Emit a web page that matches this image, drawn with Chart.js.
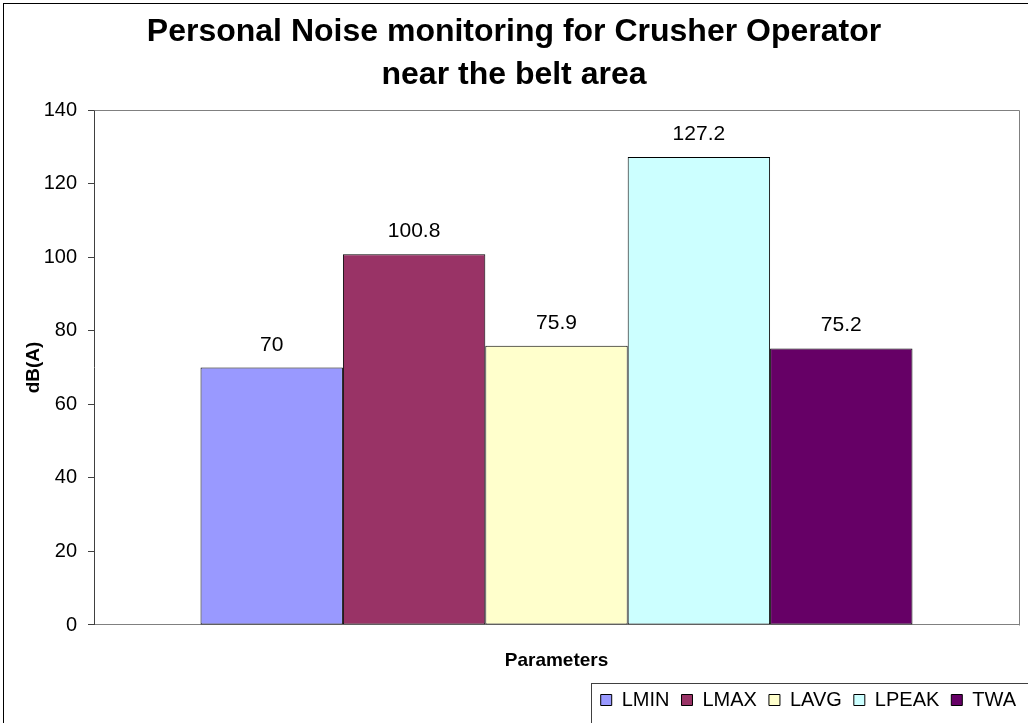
<!DOCTYPE html>
<html>
<head>
<meta charset="utf-8">
<script src="https://cdn.jsdelivr.net/npm/chart.js@4/dist/chart.umd.min.js"></script>
<style>
  html, body { margin: 0; padding: 0; background: #ffffff; }
  #wrap { width: 1028px; height: 723px; }
</style>
</head>
<body>
<div id="wrap"><canvas id="c" width="1028" height="723"></canvas></div>
<script>
const titleLines = ['Personal Noise monitoring for Crusher Operator', 'near the belt area'];
const categories = [''];
const seriesNames = ['LMIN', 'LMAX', 'LAVG', 'LPEAK', 'TWA'];
const seriesValues = [70, 100.8, 75.9, 127.2, 75.2];
const seriesColors = ['#9999FF', '#993366', '#FFFFCC', '#CCFFFF', '#660066'];
const yTicks = [0, 20, 40, 60, 80, 100, 120, 140];
const yTitle = 'dB(A)';
const xTitle = 'Parameters';

const FONT = '"Liberation Sans", Arial, sans-serif';

const datasets = seriesNames.map((name, i) => ({
  label: name,
  data: [seriesValues[i]],
  backgroundColor: seriesColors[i],
  borderColor: '#000000',
  borderWidth: 1,
  borderSkipped: false,
  inflateAmount: 0,
  barPercentage: 1.0,
  categoryPercentage: 0.7697
}));

const decorPlugin = {
  id: 'decor',
  beforeDatasetsDraw(chart) {
    const ctx = chart.ctx;
    const a = chart.chartArea;
    ctx.save();
    ctx.strokeStyle = '#808080';
    ctx.lineWidth = 1;
    ctx.beginPath();
    ctx.moveTo(Math.round(a.left) + 0.5, Math.round(a.top) + 0.5);
    ctx.lineTo(Math.round(a.right) + 0.5, Math.round(a.top) + 0.5);
    ctx.lineTo(Math.round(a.right) + 0.5, Math.round(a.bottom) + 0.5);
    ctx.stroke();
    ctx.restore();
  },
  afterDatasetsDraw(chart) {
    const ctx = chart.ctx;
    ctx.save();
    ctx.fillStyle = '#000000';
    ctx.font = '21px ' + FONT;
    ctx.textAlign = 'center';
    ctx.textBaseline = 'alphabetic';
    chart.data.datasets.forEach((ds, i) => {
      const meta = chart.getDatasetMeta(i);
      meta.data.forEach((bar, j) => {
        ctx.fillText(String(ds.data[j]), bar.x, bar.y - 17);
      });
    });
    ctx.restore();
  },
  afterDraw(chart) {
    const ctx = chart.ctx;
    ctx.save();
    ctx.strokeStyle = '#000000';
    ctx.lineWidth = 1;
    ctx.strokeRect(3.5, 3.5, 1200, 1200);
    const lg = chart.legend;
    if (lg && lg.legendHitBoxes && lg.legendHitBoxes.length) {
      const left = Math.round(lg.legendHitBoxes[0].left) - 10;
      ctx.strokeStyle = '#404040';
      ctx.strokeRect(left + 0.5, 683.5, 1200, 200);
    }
    ctx.restore();
  }
};

new Chart(document.getElementById('c'), {
  type: 'bar',
  data: { labels: categories, datasets: datasets },
  plugins: [decorPlugin],
  options: {
    responsive: false,
    animation: false,
    devicePixelRatio: 1,
    layout: { padding: { left: 0, right: 0, top: 0, bottom: 3 } },
    plugins: {
      title: {
        display: true,
        text: titleLines,
        color: '#000000',
        font: { family: FONT, size: 32, weight: 'bold', lineHeight: 1.344 },
        padding: { top: 11, bottom: 13 }
      },
      legend: {
        display: true,
        position: 'bottom',
        align: 'end',
        labels: {
          color: '#000000',
          font: { family: FONT, size: 20 },
          boxWidth: 11,
          boxHeight: 11,
          padding: 12
        }
      },
      tooltip: { enabled: false }
    },
    scales: {
      x: {
        type: 'category',
        grid: { display: false },
        border: { display: true, color: '#808080', width: 1 },
        ticks: { display: false },
        title: {
          display: true,
          text: xTitle,
          color: '#000000',
          font: { family: FONT, size: 19, weight: 'bold' },
          padding: { top: 0, bottom: 6 }
        },
        afterFit(scale) { scale.height = 53; }
      },
      y: {
        type: 'linear',
        position: 'left',
        min: 0,
        max: 140,
        afterBuildTicks(scale) { scale.ticks = yTicks.map(v => ({ value: v })); },
        grid: {
          display: true,
          drawOnChartArea: false,
          drawTicks: true,
          tickLength: 6,
          tickColor: '#404040',
          tickWidth: 1
        },
        border: { display: true, color: '#404040', width: 1 },
        ticks: {
          color: '#000000',
          font: { family: FONT, size: 20 },
          padding: 11
        },
        title: {
          display: true,
          text: yTitle,
          color: '#000000',
          font: { family: FONT, size: 19, weight: 'bold' },
          padding: { top: 22, bottom: 0 }
        },
        afterFit(scale) { scale.width = 94; }
      },
      yR: {
        type: 'linear',
        position: 'right',
        display: true,
        grid: { display: false },
        border: { display: false },
        ticks: { display: false },
        afterFit(scale) { scale.width = 9; }
      }
    }
  }
});
</script>
</body>
</html>
